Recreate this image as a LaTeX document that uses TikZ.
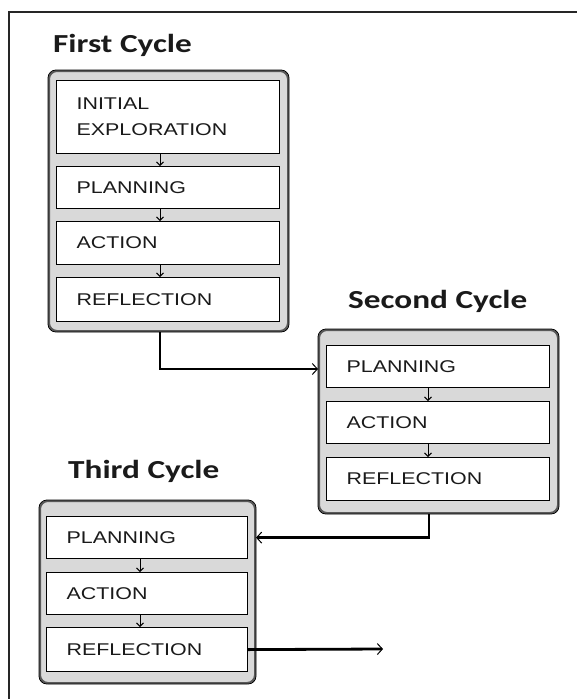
\documentclass[tikz,border=0pt]{standalone}
\usepackage{fontspec}
\setmainfont{Liberation Sans}
\newfontfamily\boxfont[FakeStretch=1.26]{Liberation Sans}
\newfontfamily\titlefont[FakeStretch=1.28]{Carlito}
\usetikzlibrary{arrows.meta}
\definecolor{cyclefill}{HTML}{D9D9D9}
\definecolor{inkdark}{HTML}{1A1A1A}

\tikzset{
  cyclebox/.style={rounded corners=8pt, fill=cyclefill, draw=black!65, line width=2pt},
  cycleedge/.style={rounded corners=8pt, draw=black, line width=0.8pt},
  stagebox/.style={draw=black, line width=1.2pt, fill=white, inner xsep=20pt,
    align=left, text width=#1, font=\boxfont\fontsize{17}{30}\selectfont,
    text=inkdark, anchor=north west},
  cycletitle/.style={anchor=base west, inner sep=0pt,
    font=\titlefont\bfseries\fontsize{26}{30}\selectfont, text=inkdark},
  steparrow/.style={line width=0.9pt, -{Straight Barb[length=3.5pt,width=7pt,line width=0.9pt]}},
  link/.style={line width=2.8pt, -{Straight Barb[length=5pt,width=11pt,line width=1pt]}},
  frameline/.style={line width=1.4pt, draw=black!85},
}

\begin{document}
\begin{tikzpicture}[x=1pt, y=-1pt]
\useasboundingbox (0,0) rectangle (577,699);

% page frame (top and left edges)
\coordinate (fb) at (9,699);
\coordinate (fc) at (9,12);
\coordinate (fr) at (577,12);
\draw[frameline] (fb) -- (fc) -- (fr);

% first cycle
\node[cycletitle] (t1) at (53,52) {First Cycle};
\node[cyclebox, minimum width=239, minimum height=260, anchor=north west] (g1) at (48,70) {};
\draw[cycleedge] (g1.north west) rectangle (g1.south east);
\node[stagebox=183pt, minimum height=73] (i1) at (56,80) {INITIAL\\[-4pt]EXPLORATION};
\node[stagebox=183pt, minimum height=42] (p1) at (56,166) {PLANNING};
\node[stagebox=183pt, minimum height=43] (a1) at (56,221) {ACTION};
\node[stagebox=183pt, minimum height=44] (r1) at (56,277) {REFLECTION};
\coordinate (c1) at (160,0);
\draw[steparrow] (i1.south -| c1) -- (p1.north -| c1);
\draw[steparrow] (p1.south -| c1) -- (a1.north -| c1);
\draw[steparrow] (a1.south -| c1) -- (r1.north -| c1);

% second cycle
\node[cycletitle] (t2) at (348,308) {Second Cycle};
\node[cyclebox, minimum width=239, minimum height=183, anchor=north west] (g2) at (318,329) {};
\draw[cycleedge] (g2.north west) rectangle (g2.south east);
\node[stagebox=183pt, minimum height=42] (p2) at (326,345) {PLANNING};
\node[stagebox=183pt, minimum height=42] (a2) at (326,401) {ACTION};
\node[stagebox=183pt, minimum height=43] (r2) at (326,457) {REFLECTION};
\coordinate (c2) at (428,0);
\draw[steparrow] (p2.south -| c2) -- (a2.north -| c2);
\draw[steparrow] (a2.south -| c2) -- (r2.north -| c2);

% third cycle
\node[cycletitle] (t3) at (68,478) {Third Cycle};
\node[cyclebox, minimum width=215, minimum height=182, anchor=north west] (g3) at (39,500) {};
\draw[cycleedge] (g3.north west) rectangle (g3.south east);
\node[stagebox=161pt, minimum height=42] (p3) at (46,516) {PLANNING};
\node[stagebox=161pt, minimum height=42] (a3) at (46,572) {ACTION};
\node[stagebox=161pt, minimum height=44] (r3) at (46,627) {REFLECTION};
\coordinate (c3) at (140,0);
\draw[steparrow] (p3.south -| c3) -- (a3.north -| c3);
\draw[steparrow] (a3.south -| c3) -- (r3.north -| c3);

% links between cycles
\coordinate (l1) at (0,369);
\coordinate (c4) at (429,0);
\coordinate (out) at (383,649);
\draw[link] (g1.south -| c1) |- (g2.west |- l1);
\draw[link] (g2.south -| c4) |- (g3.east |- p3.east);
\draw[link] (r3.east) -- (out);
\end{tikzpicture}
\end{document}
